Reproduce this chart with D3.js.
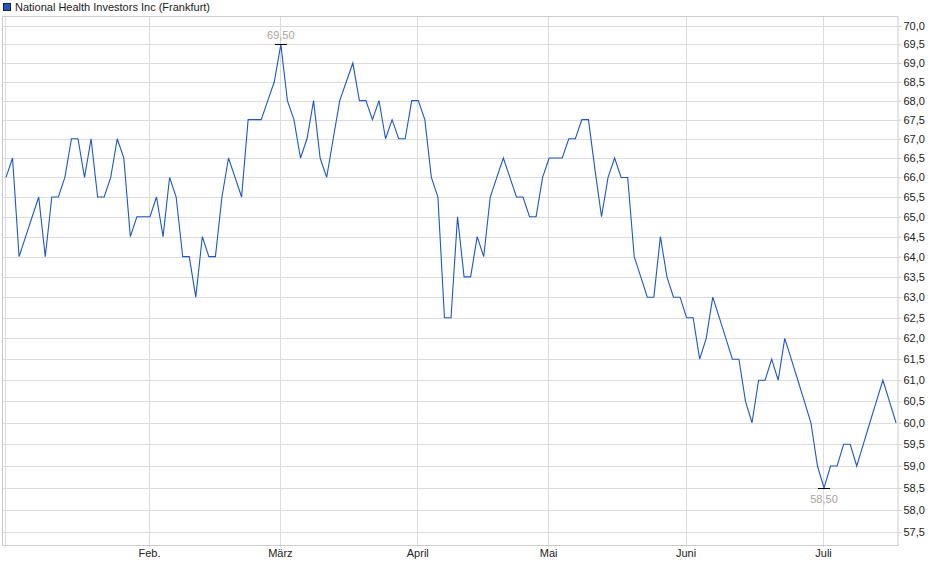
<!DOCTYPE html>
<html><head><meta charset="utf-8">
<script src="https://cdn.jsdelivr.net/npm/d3@7"></script>
<style>body{margin:0;background:#fff}svg{display:block}</style>
</head><body>
<svg id="c" width="940" height="579"></svg>
<script>
const seriesName = "National Health Investors Inc (Frankfurt)";
const prices = [
  66.0,66.5,64.0,64.5,65.0,65.5,64.0,65.5,65.5,66.0,
  67.0,67.0,66.0,67.0,65.5,65.5,66.0,67.0,66.5,64.5,
  65.0,65.0,65.0,65.5,64.5,66.0,65.5,64.0,64.0,63.0,
  64.5,64.0,64.0,65.5,66.5,66.0,65.5,67.5,67.5,67.5,
  68.0,68.5,69.5,68.0,67.5,66.5,67.0,68.0,66.5,66.0,
  67.0,68.0,68.5,69.0,68.0,68.0,67.5,68.0,67.0,67.5,
  67.0,67.0,68.0,68.0,67.5,66.0,65.5,62.5,62.5,65.0,
  63.5,63.5,64.5,64.0,65.5,66.0,66.5,66.0,65.5,65.5,
  65.0,65.0,66.0,66.5,66.5,66.5,67.0,67.0,67.5,67.5,
  66.2,65.0,66.0,66.5,66.0,66.0,64.0,63.5,63.0,63.0,
  64.5,63.5,63.0,63.0,62.5,62.5,61.5,62.0,63.0,62.5,
  62.0,61.5,61.5,60.5,60.0,61.0,61.0,61.5,61.0,62.0,
  61.5,61.0,60.5,60.0,59.0,58.5,59.0,59.0,59.5,59.5,
  59.0,59.5,60.0,60.5,61.0,60.5,60.0
];
const monthLabels = ["Feb.","März","April","Mai","Juni","Juli"];
const monthStartIndex = [22,42,63,83,104,125];
const yTickValues = [57.5,58.0,58.5,59.0,59.5,60.0,60.5,61.0,61.5,62.0,62.5,63.0,63.5,64.0,64.5,65.0,65.5,66.0,66.5,67.0,67.5,68.0,68.5,69.0,69.5,70.0];

(function () {
const pL = 3, pR = 898, pT = 16, pB = 545;
const font = "Arial, 'Liberation Sans', sans-serif";
const lineColor = "#1c58c6";

const svg = d3.select("#c");
const x = d3.scaleLinear().domain([0, prices.length - 1]).range([6, 896]);
const y = d3.scaleLog().domain([57.5, 70]).range([532.3, 26]);
const fmt = v => d3.format(".1f")(v).replace(".", ",");
const fmt2 = v => d3.format(".2f")(v).replace(".", ",");
const crisp = v => Math.round(v) + 0.5;

// horizontal grid
svg.append("g").selectAll("line").data(yTickValues).join("line")
  .attr("x1", pL).attr("x2", pR)
  .attr("y1", d => crisp(y(d))).attr("y2", d => crisp(y(d)))
  .attr("stroke", "#dcdcdc").attr("stroke-width", 1);

// vertical grid (January start + month starts)
svg.append("g").selectAll("line").data([0].concat(monthStartIndex)).join("line")
  .attr("x1", d => crisp(x(d)) - 1).attr("x2", d => crisp(x(d)) - 1)
  .attr("y1", pT).attr("y2", pB + 2)
  .attr("stroke", "#dcdcdc").attr("stroke-width", 1);

// frame
svg.append("rect").attr("x", pL - 0.5).attr("y", pT + 0.5)
  .attr("width", pR - pL + 0.5).attr("height", pB - pT)
  .attr("fill", "none").attr("stroke", "#cccccc");

// right axis
const yAxis = d3.axisRight(y).tickValues(yTickValues).tickFormat(fmt).tickSize(3).tickPadding(2);
const ga = svg.append("g").attr("transform", `translate(${pR + 0.5},0)`).call(yAxis);
ga.select(".domain").remove();
ga.selectAll(".tick line").attr("stroke", "#cccccc");
ga.selectAll(".tick text").attr("font-family", font).attr("font-size", 11).attr("fill", "#222");

// bottom axis labels
const xAxis = d3.axisBottom(x).tickValues(monthStartIndex)
  .tickFormat((d, i) => monthLabels[i]).tickSize(0).tickPadding(4);
const gx = svg.append("g").attr("transform", `translate(-1,${pB})`).call(xAxis);
gx.select(".domain").remove();
gx.selectAll(".tick text").attr("font-family", font).attr("font-size", 11).attr("fill", "#222");

// price line
svg.append("path").datum(prices)
  .attr("d", d3.line().x((d, i) => x(i)).y(d => y(d)))
  .attr("fill", "none").attr("stroke", lineColor).attr("stroke-width", 1.1);

// high / low markers
const iMax = d3.maxIndex(prices), iMin = d3.minIndex(prices);
[[iMax, -1], [iMin, 1]].forEach(([i, dir]) => {
  const px = x(i), py = crisp(y(prices[i]));
  svg.append("line").attr("x1", px - 6).attr("x2", px + 6).attr("y1", py).attr("y2", py)
    .attr("stroke", "#000").attr("stroke-width", 1);
  svg.append("text").attr("x", px).attr("y", dir < 0 ? py - 5.5 : py + 14)
    .attr("text-anchor", "middle").attr("font-family", font).attr("font-size", 11)
    .attr("fill", "#a8a29a").text(fmt2(prices[i]));
});

// legend
svg.append("rect").attr("x", 3.5).attr("y", 3.5).attr("width", 7).attr("height", 7)
  .attr("fill", lineColor).attr("stroke", "#222");
svg.append("text").attr("x", 15).attr("y", 10.5).attr("font-family", font)
  .attr("font-size", 11).attr("fill", "#222").text(seriesName);
})();
</script>
</body></html>
